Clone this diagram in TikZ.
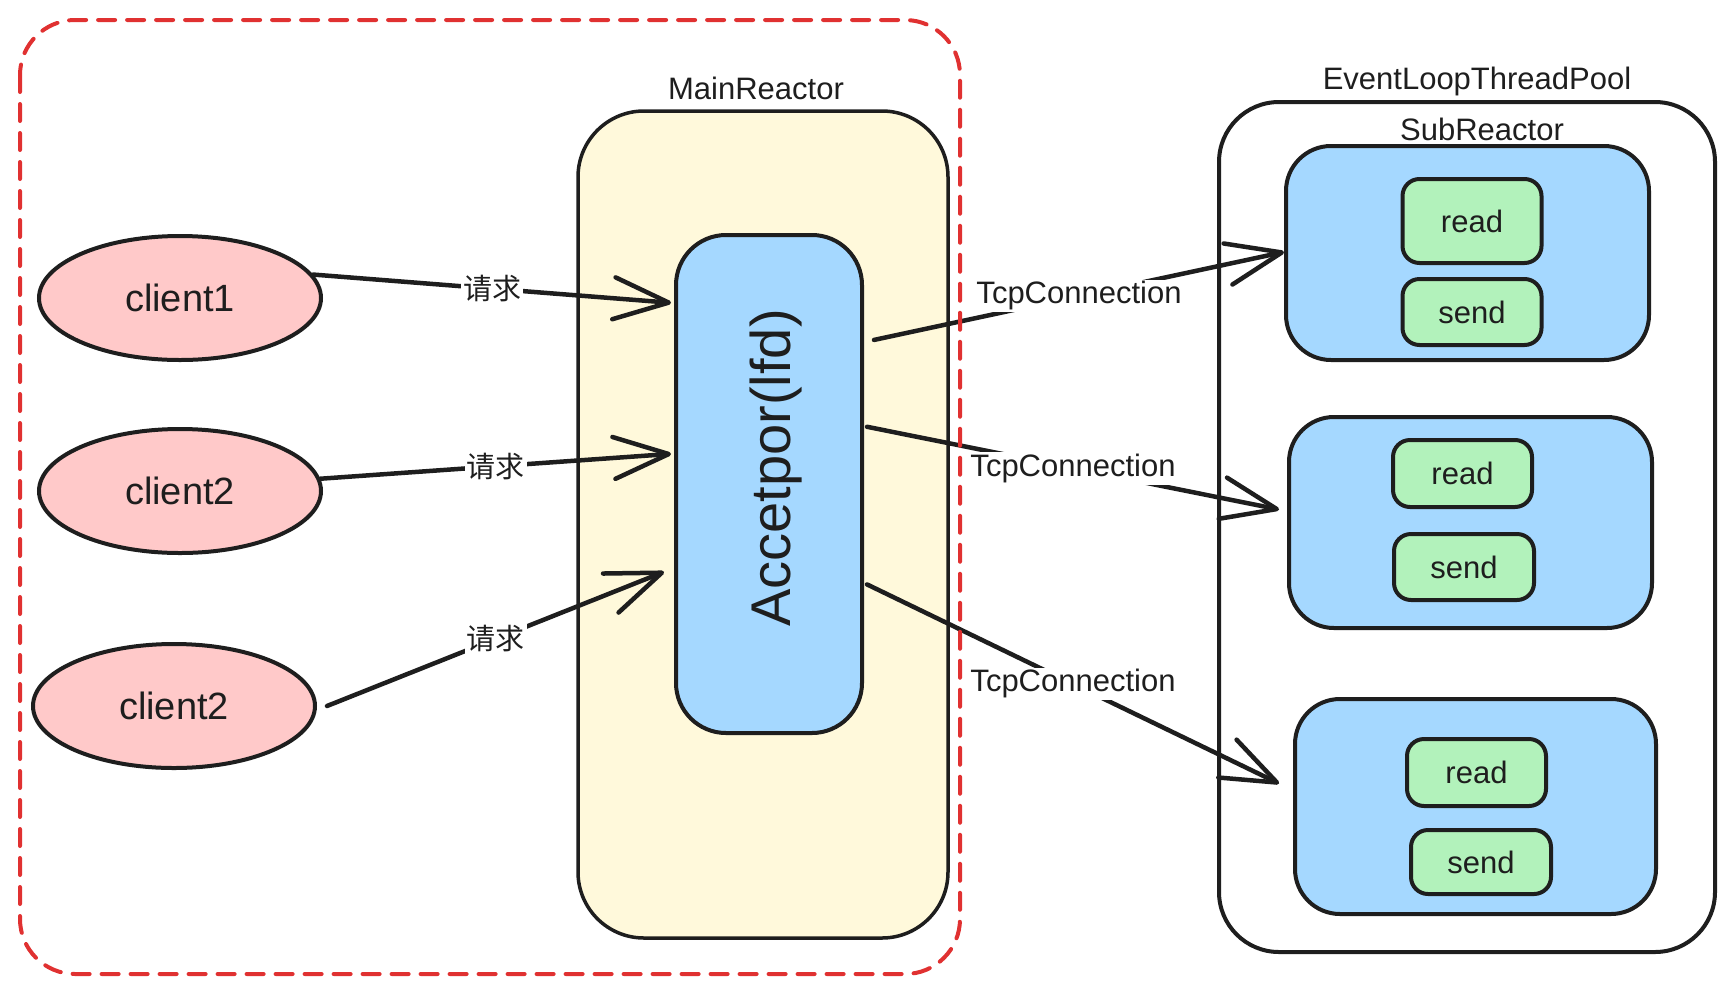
\documentclass[tikz,border=0pt]{standalone}
\usepackage{fontspec}
\setmainfont{Liberation Sans}
\newfontfamily\cjk{Noto Sans CJK SC}
\usetikzlibrary{arrows.meta,calc,shapes.geometric}
\definecolor{ink}{HTML}{1E1E1E}
\definecolor{redd}{HTML}{E03131}
\definecolor{yel}{HTML}{FFF9DB}
\definecolor{blu}{HTML}{A5D8FF}
\definecolor{grn}{HTML}{B2F2BB}
\definecolor{pnk}{HTML}{FFC9C9}
\begin{document}
\begin{tikzpicture}[x=1pt,y=-1pt,
  txt/.style={text=ink,font=\fontsize{31}{36}\selectfont},
  box/.style={draw=ink,line width=4pt,inner sep=0pt,txt},
  client/.style={box,ellipse,fill=pnk,minimum width=282pt,minimum height=124pt,font=\fontsize{38}{43}\selectfont},
  sub/.style={box,fill=blu,rounded corners=45pt,minimum width=363pt,minimum height=213pt},
  op/.style={box,fill=grn,rounded corners=17pt,minimum width=139pt,minimum height=66pt},
  arr/.style={draw=ink,line width=4.5pt,line cap=round,-{Straight Barb[length=55pt,width=42pt,round]}},
  lbl/.style={fill=white,inner sep=2pt,txt},
  clbl/.style={fill=white,inner sep=2pt,text=ink,font=\cjk\fontsize{29}{34}\selectfont}
]
\useasboundingbox (0,0) rectangle (1735,994);

% main reactor
\node[box,fill=yel,line width=3.5pt,rounded corners=66pt,minimum width=370pt,minimum height=827pt] (main) at (763,524.5) {};
\node[txt] (mainlbl) at (756,88) {MainReactor};
\node[box,fill=blu,rounded corners=50pt,minimum width=186pt,minimum height=498pt] (acc) at (769,484) {};
\node[text=ink,font=\fontsize{56}{64}\selectfont,inner sep=0pt] (acctxt) at (776,468) {\rotatebox{90}{Accetpor(lfd)}};

% clients
\node[client] (c1) at (180,298) {client1};
\node[client] (c2) at (180,491) {client2};
\node[client] (c3) at (174,706) {client2};

% pool
\node[box,fill=white,rounded corners=60pt,minimum width=496pt,minimum height=850pt] (pool) at (1467,527) {};
\node[txt] (poollbl) at (1477,81) {EventLoopThreadPool};
\node[txt] (sublbl) at (1482,129) {SubReactor};

\node[sub,minimum height=214pt] (s1) at (1467.5,253) {};
\node[sub,minimum height=211pt] (s2) at (1470.5,522.5) {};
\node[sub,minimum width=361pt,minimum height=215pt] (s3) at (1475.5,806.5) {};

\node[op,minimum height=84pt] (r1) at (1472,221) {read};
\node[op] (w1) at (1472,312) {send};
\node[op,minimum height=67pt] (r2) at (1462.5,473.5) {read};
\node[op,minimum width=140pt] (w2) at (1464,567) {send};
\node[op,minimum height=67pt] (r3) at (1476.5,772.5) {read};
\node[op,minimum width=140pt,minimum height=64pt] (w3) at (1481,862) {send};

% requests
\draw[arr] (c1.10) -- node[clbl] (q1) {请求} ($(acc.north west)!0.139!(acc.south west)+(-3,0)$);
\draw[arr] (c2.5) -- node[clbl] (q2) {请求} ($(acc.north west)!0.44!(acc.south west)+(-3,0)$);
\draw[arr] ($(c3.east)+(10,0)$) -- node[clbl] (q3) {请求} ($(acc.north west)!0.675!(acc.south west)+(-10,0)$);

% connections
\draw[arr] ($(acc.north east)!0.213!(acc.south east)+(10,0)$) -- node[lbl] (t1) {TcpConnection} ($(s1.west)+(0,-1)$);
\draw[arr] ($(acc.north east)!0.386!(acc.south east)+(3,0)$) -- node[lbl] (t2) {TcpConnection} ($(s2.west)+(-8,-13)$);
\draw[arr] ($(acc.north east)!0.70!(acc.south east)+(3,0)$) -- node[lbl] (t3) {TcpConnection} ($(s3.west)+(-14,-23)$);

% dashed frame
\draw[redd,line width=4pt,dash pattern=on 17pt off 12pt,rounded corners=55pt,line cap=round] (20,20) rectangle (960,974);
\end{tikzpicture}
\end{document}
